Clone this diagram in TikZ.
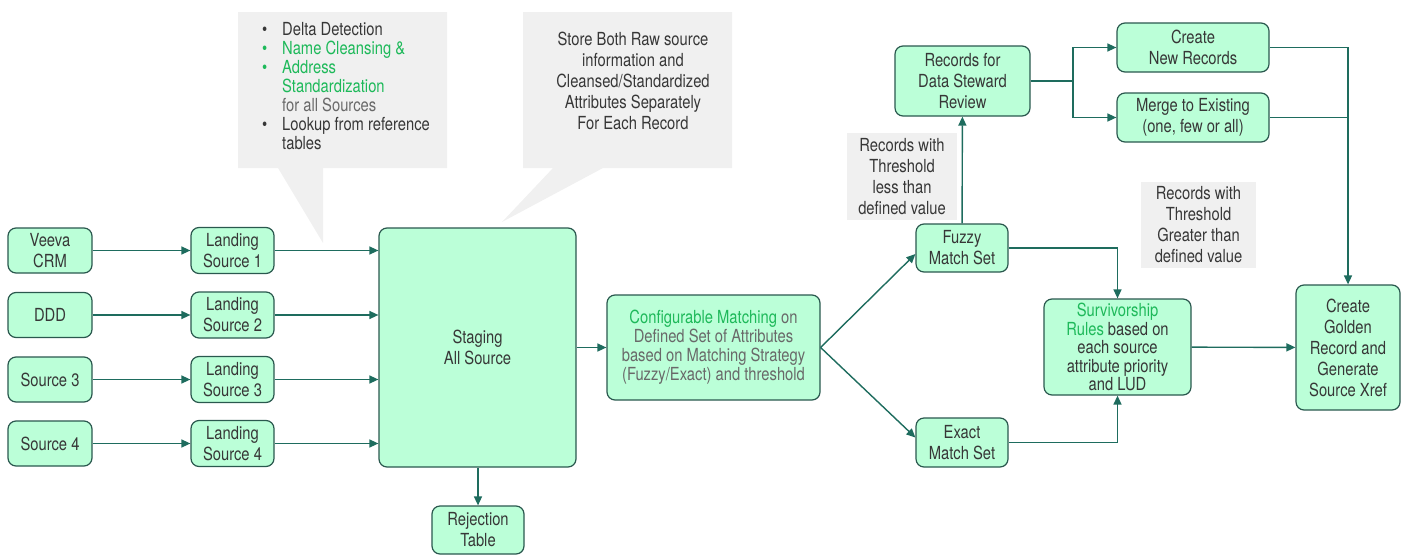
\documentclass[tikz,border=0pt]{standalone}
\usepackage{fontspec}
\setmainfont{TeX Gyre Heros}[FakeStretch=0.82]
\usetikzlibrary{arrows.meta}
\definecolor{boxfill}{RGB}{187,255,216}
\definecolor{boxline}{RGB}{42,88,78}
\definecolor{arr}{RGB}{30,108,94}
\definecolor{txt}{RGB}{55,55,55}
\definecolor{grn}{RGB}{30,185,90}
\definecolor{gry}{RGB}{105,105,105}
\definecolor{callout}{RGB}{240,240,240}
\tikzset{
  box/.style={draw=boxline, fill=boxfill, rounded corners=8pt, line width=1.2pt,
    align=center, text=txt, inner sep=0pt},
  note/.style={fill=callout, align=center, text=txt, inner sep=0pt},
  flow/.style={draw=arr, line width=1.4pt, -{Triangle[length=9pt,width=8pt]}},
  link/.style={draw=arr, line width=1.4pt}
}
\newcommand{\blt}{\makebox[20pt][l]{\textbullet}}
\begin{document}
\begin{tikzpicture}[x=1pt,y=-1pt,font=\fontsize{18}{21}\selectfont]
  \useasboundingbox (0,0) rectangle (1407,554);
  % callouts
  \fill[callout] (238,12) -- (447,12) -- (447,168) -- (323,168) -- (323,243) -- (278,168) -- (238,168) -- cycle;
  \fill[callout] (523,12) -- (732,12) -- (732,168) -- (603,168) -- (502,222) -- (553,168) -- (523,168) -- cycle;
  \node[anchor=north west, align=left, inner sep=0pt, text=txt,
    font=\fontsize{18}{19}\selectfont] (bullets) at (262,22) {%
    \blt Delta Detection\\
    \textcolor{grn}{\blt Name Cleansing \&}\\
    \textcolor{grn}{\blt Address}\\
    \hspace*{20pt}\textcolor{grn}{Standardization}\\
    \hspace*{20pt}\textcolor{gry}{for all Sources}\\
    \blt Lookup from reference\\
    \hspace*{20pt}tables};
  \node[align=center, text=txt, inner sep=0pt] (store) at (633,81)
    {Store Both Raw source\\information and\\Cleansed/Standardized\\Attributes Separately\\For Each Record};
  % sources and landing
  \node[box, minimum width=84pt, minimum height=45pt] (veeva) at (50,250.5) {Veeva\\CRM};
  \node[box, minimum width=84pt, minimum height=45pt] (ddd) at (50,315) {DDD};
  \node[box, minimum width=84pt, minimum height=45pt] (srcc) at (50,379.5) {Source 3};
  \node[box, minimum width=84pt, minimum height=45pt] (srcd) at (50,443.5) {Source 4};
  \foreach \i/\y in {1/250.5,2/315,3/379.5,4/443.5}
    \node[box, minimum width=83pt, minimum height=46pt] (land\i) at (232.5,\y) {Landing\\Source \i};
  \node[box, minimum width=197pt, minimum height=239pt] (staging) at (477.5,347.5) {Staging\\All Source};
  \node[box, minimum width=92pt, minimum height=48pt] (reject) at (478,530) {Rejection\\Table};
  \node[box, minimum width=213pt, minimum height=105pt, text=gry,
    font=\fontsize{18}{19}\selectfont] (match) at (713.5,347.5)
    {\textcolor{grn}{Configurable Matching} on\\Defined Set of Attributes\\based on Matching Strategy\\(Fuzzy/Exact) and threshold};
  \node[box, minimum width=92pt, minimum height=48pt] (fuzzy) at (962,248) {Fuzzy\\Match Set};
  \node[box, minimum width=92pt, minimum height=49pt] (exact) at (962,442.5) {Exact\\Match Set};
  \node[box, minimum width=135pt, minimum height=70pt] (steward) at (962.5,81) {Records for\\Data Steward\\Review};
  \node[box, minimum width=152pt, minimum height=49pt] (newrec) at (1193,47.5) {Create\\New Records};
  \node[box, minimum width=152pt, minimum height=49pt] (merge) at (1193,117.5) {Merge to Existing\\(one, few or all)};
  \node[box, minimum width=147pt, minimum height=96pt,
    font=\fontsize{18}{18.5}\selectfont] (surv) at (1117.5,347)
    {\textcolor{grn}{Survivorship}\\\textcolor{grn}{Rules} based on\\each source\\attribute priority\\and LUD};
  \node[box, minimum width=104pt, minimum height=125pt] (golden) at (1348,347.5)
    {Create\\Golden\\Record and\\Generate\\Source Xref};
  % threshold labels
  \node[note, minimum width=110pt, minimum height=87pt] (less) at (902,176.5)
    {Records with\\Threshold\\less than\\defined value};
  \node[note, minimum width=115pt, minimum height=86pt] (greater) at (1198.5,225)
    {Records with\\Threshold\\Greater than\\defined value};
  % connectors
  \draw[flow] (veeva) -- (land1);
  \draw[flow] (ddd) -- (land2);
  \draw[flow] (srcc) -- (land3);
  \draw[flow] (srcd) -- (land4);
  \foreach \i in {1,...,4}
    \draw[flow] (land\i.east) -- (land\i.east -| staging.west);
  \draw[flow] (staging.south -| reject) -- (reject);
  \draw[flow] (staging) -- (match);
  \draw[flow] (match.east) -- ([yshift=-6pt]fuzzy.west);
  \draw[flow] (match.east) -- ([yshift=5pt]exact.west);
  \draw[flow] (fuzzy) -- (steward);
  \draw[flow] (fuzzy.east) -| (surv.north);
  \draw[flow] (exact.east) -| (surv.south);
  \draw[link] (steward.east) -- (1073,81) coordinate (split);
  \draw[flow] (split) |- (newrec.west);
  \draw[flow] (split) |- (merge.west);
  \draw[flow] (newrec.east) -| (golden.north);
  \draw[link] (merge.east) -- (merge.east -| golden.north);
  \draw[flow] (surv) -- (golden);
\end{tikzpicture}
\end{document}
